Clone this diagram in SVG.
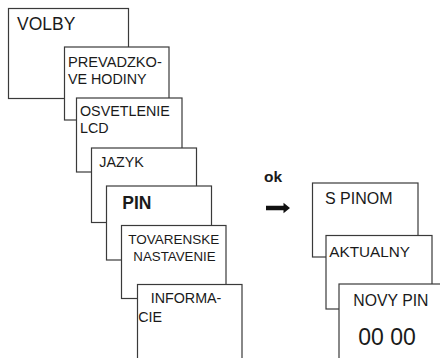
<svg xmlns="http://www.w3.org/2000/svg" width="440" height="358" viewBox="0 0 440 358">
<style>
.box{fill:#fff;stroke:#3a3a3a;stroke-width:1.2}
.t{font-family:"Liberation Sans",Arial,Helvetica,sans-serif;fill:#1a1a1a;font-size:14.3px}
.b{font-weight:bold}
</style>
<rect width="440" height="358" fill="#fff"/>
<g id="volby"><rect class="box" x="8.5" y="8.5" width="120" height="90"/><text class="t" x="17" y="30" style="font-size:17.5px">VOLBY</text></g>
<g id="prevadzkove-hodiny"><rect class="box" x="64.5" y="47" width="104.5" height="73"/><text class="t" x="68" y="66.7" style="font-size:14.6px">PREVADZKO-</text><text class="t" x="68" y="84.3">VE HODINY</text></g>
<g id="osvetlenie-lcd"><rect class="box" x="76.5" y="98" width="105.5" height="74"/><text class="t" x="80" y="115.7">OSVETLENIE</text><text class="t" x="80" y="133.3">LCD</text></g>
<g id="jazyk"><rect class="box" x="91.5" y="148" width="105" height="74.5"/><text class="t" x="99.3" y="167.3">JAZYK</text></g>
<g id="pin"><rect class="box" x="106.5" y="186" width="105" height="74"/><text class="t b" x="122.3" y="209" style="font-size:17.5px">PIN</text></g>
<g id="tovarenske-nastavenie"><rect class="box" x="121.5" y="225.5" width="104.5" height="73"/><text class="t" x="128.3" y="244.3" style="font-size:13.5px">TOVARENSKE</text><text class="t" x="133.3" y="261" style="font-size:13.3px">NASTAVENIE</text></g>
<g id="informacie"><rect class="box" x="137.5" y="284.5" width="104.5" height="85"/><text class="t" x="150.7" y="303.3">INFORMA-</text><text class="t" x="138.3" y="321.7">CIE</text></g>
<g id="ok-label"><text class="t b" x="264" y="182" style="font-size:15.5px">ok</text></g>
<g id="connectors"><path d="M266 205.8H283.5V202.7L290 208L283.5 213.3V210.2H266Z" fill="#111"/></g>
<g id="s-pinom"><rect class="box" x="312.5" y="183" width="105.5" height="74"/><text class="t" x="325" y="204" style="font-size:16px">S PINOM</text></g>
<g id="aktualny"><rect class="box" x="326" y="235.5" width="106" height="73.5"/><text class="t" x="329.3" y="256.7" style="font-size:15.3px">AKTUALNY</text></g>
<g id="novy-pin"><rect class="box" x="339" y="284" width="110" height="85"/><text class="t" x="353.3" y="305.7" style="font-size:15.8px">NOVY PIN</text><text class="t" x="358.3" y="345" style="font-size:23px">00 00</text></g>
</svg>
